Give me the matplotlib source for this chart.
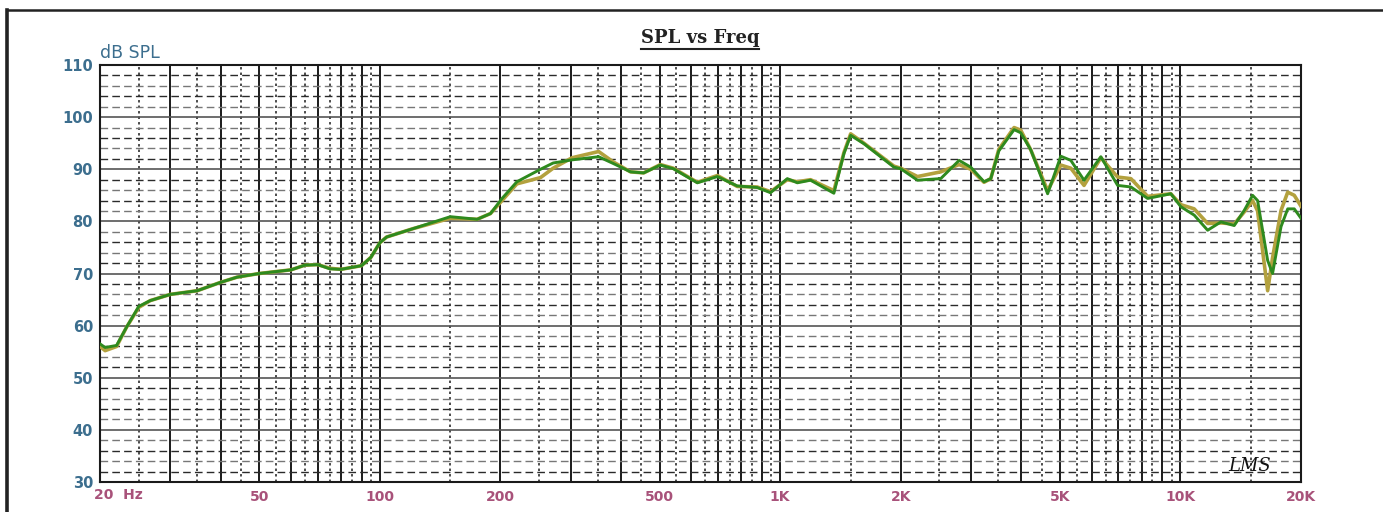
import numpy as np
import matplotlib
matplotlib.use("Agg")
import matplotlib.pyplot as plt
from matplotlib.lines import Line2D

# ---------------- data ----------------
freq_hz = [20, 20.6, 22, 23.3, 25, 26.7, 30, 35, 40, 44, 50, 60, 65, 70, 75, 80, 90, 95,
           100, 104, 121, 150, 175, 189, 202, 220, 252, 271, 302, 352, 383, 423, 456,
           502, 541, 621, 697, 781, 876, 946, 1042, 1104, 1191, 1362, 1443, 1500, 1619,
           1924, 2000, 2203, 2518, 2799, 2993, 3230, 3358, 3516, 3840, 3990, 4228, 4657,
           5024, 5322, 5742, 6325, 6966, 7517, 8278, 9459, 10024, 10820, 11690, 12619,
           13622, 14427, 15140, 15580, 16510, 16980, 17830, 18530, 19240, 20000]

spl_green = [56.5, 55.8, 56.2, 59.7, 63.7, 64.8, 66.0, 66.7, 68.3, 69.3, 70.0, 70.7, 71.6,
             71.7, 70.9, 70.8, 71.5, 73.1, 75.9, 77.0, 78.6, 80.9, 80.4, 81.5, 84.4, 87.6,
             90.0, 91.2, 91.8, 92.4, 91.1, 89.5, 89.3, 90.8, 90.1, 87.4, 88.6, 86.8, 86.5,
             85.5, 88.2, 87.4, 87.9, 85.4, 93.0, 96.5, 94.9, 90.4, 90.1, 87.9, 88.2, 91.7,
             90.4, 87.6, 88.2, 93.5, 97.6, 97.0, 93.7, 85.3, 92.5, 91.7, 87.9, 92.4, 86.9,
             86.6, 84.4, 85.3, 82.8, 81.2, 78.3, 79.9, 79.2, 82.1, 85.0, 84.0, 72.5, 70.0,
             79.0, 82.4, 82.4, 80.6]

spl_olive = [56.0, 55.2, 56.0, 59.7, 63.5, 64.8, 66.0, 66.7, 68.3, 69.3, 70.0, 70.7, 71.6,
             71.7, 71.0, 70.8, 71.5, 73.1, 75.9, 77.0, 78.6, 80.6, 80.4, 81.5, 84.0, 87.2,
             88.4, 90.2, 92.2, 93.4, 91.4, 89.5, 89.3, 90.9, 90.2, 87.5, 88.8, 86.7, 86.6,
             85.7, 88.0, 87.6, 88.0, 85.9, 93.2, 96.8, 95.0, 90.6, 90.2, 88.6, 89.5, 90.9,
             90.0, 87.5, 88.2, 93.8, 98.0, 97.5, 93.7, 85.9, 90.8, 90.2, 86.9, 92.2, 88.5,
             88.2, 84.8, 85.3, 83.2, 82.4, 79.6, 79.7, 79.5, 81.8, 84.0, 82.0, 66.7, 73.0,
             82.1, 85.6, 85.0, 82.9]

x_tick_vals = [50, 100, 200, 500, 1000, 2000, 5000, 10000, 20000]
x_tick_labels = ["50", "100", "200", "500", "1K", "2K", "5K", "10K", "20K"]
y_tick_vals = [30, 40, 50, 60, 70, 80, 90, 100, 110]

# ---------------- figure ----------------
W, H, DPI = 1383, 512, 100
fig = plt.figure(figsize=(W / DPI, H / DPI), dpi=DPI)
fig.patch.set_facecolor("white")

L, R, T, B = 100, 1301, 65, 482
ax = fig.add_axes([L / W, 1 - B / H, (R - L) / W, (B - T) / H])
ax.set_xscale("log")
ax.set_xlim(20, 20000)
ax.set_ylim(30, 110)

# grid
for dec in [10, 100, 1000, 10000]:
    for m in range(1, 10):
        f = dec * m
        if 20 < f < 20000:
            ax.axvline(f, color="#1a1a1a", lw=1.4, zorder=1)
        fh = dec * (m + 0.5)
        if 20 < fh < 20000:
            ax.axvline(fh, color="#1a1a1a", lw=1.1, ls=(0, (1.6, 2.0)), zorder=1)
for v in range(40, 110, 10):
    ax.axhline(v, color="#555555", lw=1.2, zorder=1)
for v in range(32, 110, 2):
    if v % 10 == 0:
        continue
    c = "#2a2a2a" if v % 4 == 0 else "#777777"
    ax.axhline(v, color=c, lw=1.0, ls=(0, (5.5, 3)), zorder=1)

# curves
ax.plot(freq_hz, spl_olive, color="#b3a13e", lw=2.6, zorder=3, solid_joinstyle="round")
ax.plot(freq_hz, spl_green, color="#2e8a1e", lw=2.1, zorder=4, solid_joinstyle="round")

for s in ax.spines.values():
    s.set_color("#1a1a1a")
    s.set_linewidth(1.5)

ax.tick_params(length=0)
ax.set_xticks(x_tick_vals)
ax.set_xticklabels(x_tick_labels)
ax.xaxis.set_minor_locator(matplotlib.ticker.NullLocator())
ax.set_yticks(y_tick_vals)
ax.set_yticklabels([str(v) for v in y_tick_vals])
ax.tick_params(axis="x", pad=6, labelsize=10, labelcolor="#a8527a")
ax.tick_params(axis="y", pad=5, labelsize=10.5, labelcolor="#3c6e8e")
for lab in ax.get_xticklabels():
    lab.set_fontweight("bold")
for lab in ax.get_yticklabels():
    lab.set_fontweight("bold")

ax.annotate("20  Hz", xy=(20, 0), xycoords=("data", "axes fraction"),
            xytext=(-6, -13), textcoords="offset pixels", ha="left", va="center",
            fontsize=10, fontweight="bold", color="#a8527a")

# axis unit label
fig.text(L / W, 1 - 58 / H, "dB SPL", fontsize=12.5, color="#3c6e8e",
         ha="left", va="baseline")

# title with underline
title = fig.text(700 / W, 1 - 38 / H, "SPL vs Freq", fontsize=13, fontweight="bold",
                 family="DejaVu Serif", color="#222222", ha="center", va="center")
fig.canvas.draw()
bb = title.get_window_extent()
uy = bb.y0 - 2
fig.add_artist(Line2D([bb.x0 / W, bb.x1 / W], [uy / H, uy / H], color="#222222", lw=1.5))

# logo
ax.text(13200, 33.0, "LMS", fontsize=13, fontstyle="italic", family="DejaVu Serif",
        color="#111111", ha="left", va="center", zorder=5)

# outer frame
fig.add_artist(Line2D([7 / W, 7 / W], [0, 1 - 10 / H], color="#222222", lw=2.6))
fig.add_artist(Line2D([7 / W, 1], [1 - 10 / H, 1 - 10 / H], color="#222222", lw=1.8))

fig.savefig("out.png", dpi=DPI)
